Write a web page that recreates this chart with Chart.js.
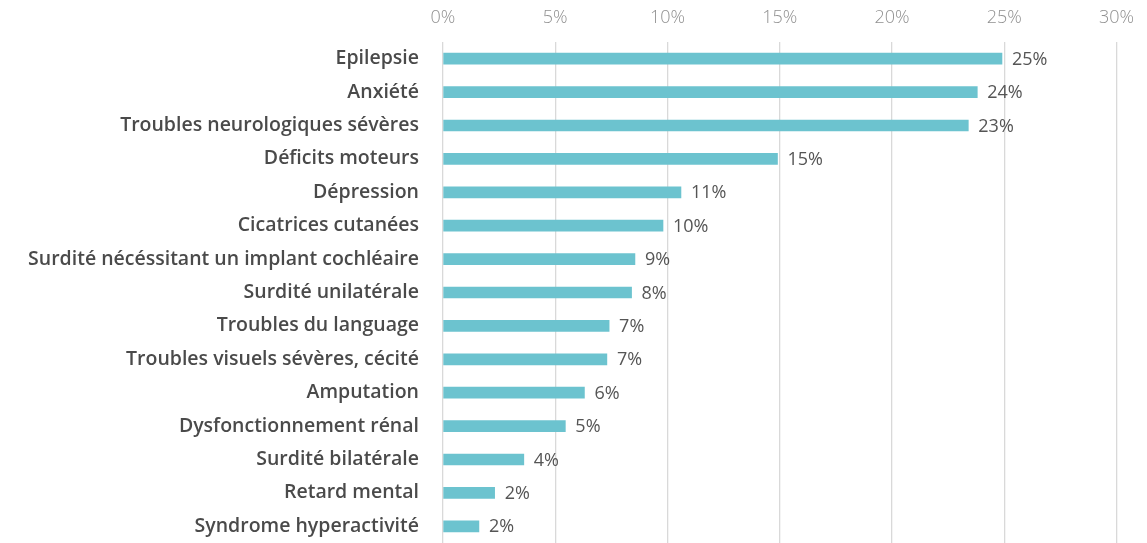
<!DOCTYPE html>
<html lang="fr">
<head>
<meta charset="utf-8">
<title>Séquelles</title>
<script src="https://cdn.jsdelivr.net/npm/chart.js@4/dist/chart.umd.min.js"></script>
<style>
  html, body { margin: 0; padding: 0; background: #ffffff; }
  #wrap { width: 1147px; height: 543px; }
</style>
</head>
<body>
<div id="wrap"><canvas id="barChart" width="1147" height="543"></canvas></div>
<script>
// Catégories (de haut en bas)
const categories = [
    'Epilepsie',
    'Anxiété',
    'Troubles neurologiques sévères',
    'Déficits moteurs',
    'Dépression',
    'Cicatrices cutanées',
    'Surdité nécéssitant un implant cochléaire',
    'Surdité unilatérale',
    'Troubles du language',
    'Troubles visuels sévères, cécité',
    'Amputation',
    'Dysfonctionnement rénal',
    'Surdité bilatérale',
    'Retard mental',
    'Syndrome hyperactivité'
];

// Pourcentages
const pourcentages = [24.9, 23.8, 23.4, 14.9, 10.6, 9.8, 8.55, 8.4, 7.4, 7.3, 6.3, 5.45, 3.6, 2.3, 1.6];

// Graduations de l'axe
const graduations = [0, 5, 10, 15, 20, 25, 30];

const couleurBarre = '#6cc3cf';
const police = "'Open Sans', 'DejaVu Sans', sans-serif";

// Étiquettes de valeur au bout des barres
const etiquettesValeurs = {
    id: 'etiquettesValeurs',
    afterDatasetsDraw(chart) {
        const ctx = chart.ctx;
        const meta = chart.getDatasetMeta(0);
        ctx.save();
        ctx.font = '400 18px ' + police;
        ctx.fillStyle = '#555555';
        ctx.textAlign = 'left';
        ctx.textBaseline = 'middle';
        meta.data.forEach((bar, i) => {
            const v = chart.data.datasets[0].data[i];
            ctx.fillText(Math.round(v) + '%', bar.x + 10, bar.y + 1);
        });
        ctx.restore();
    }
};

new Chart(document.getElementById('barChart').getContext('2d'), {
    type: 'bar',
    data: {
        labels: categories,
        datasets: [{
            data: pourcentages,
            backgroundColor: couleurBarre,
            barThickness: 11
        }]
    },
    options: {
        indexAxis: 'y',
        responsive: false,
        animation: false,
        layout: { padding: { top: 0, right: 26, bottom: 0, left: 0 } },
        plugins: {
            legend: { display: false },
            tooltip: { enabled: false }
        },
        scales: {
            x: {
                position: 'top',
                min: 0,
                max: 30,
                afterBuildTicks: s => { s.ticks = graduations.map(v => ({ value: v })); },
                afterFit: s => { s.height = 42; },
                grid: { color: '#d9d9d9', lineWidth: 1.3, drawTicks: false },
                border: { display: false },
                ticks: {
                    padding: 13,
                    color: '#909090',
                    font: { family: police, size: 18, weight: '300' },
                    callback: v => v + '%'
                }
            },
            y: {
                // largeur fixe, sans marge verticale ajoutée par les libellés
                afterFit: s => {
                    s.width = 443;
                    s.paddingTop = 0;
                    s.paddingBottom = 0;
                },
                grid: { display: false, drawTicks: false },
                border: { display: false },
                ticks: {
                    padding: 24,
                    color: '#4a4a4a',
                    font: { family: police, size: 19.5, weight: '600' }
                }
            }
        }
    },
    plugins: [etiquettesValeurs]
});
</script>
</body>
</html>
